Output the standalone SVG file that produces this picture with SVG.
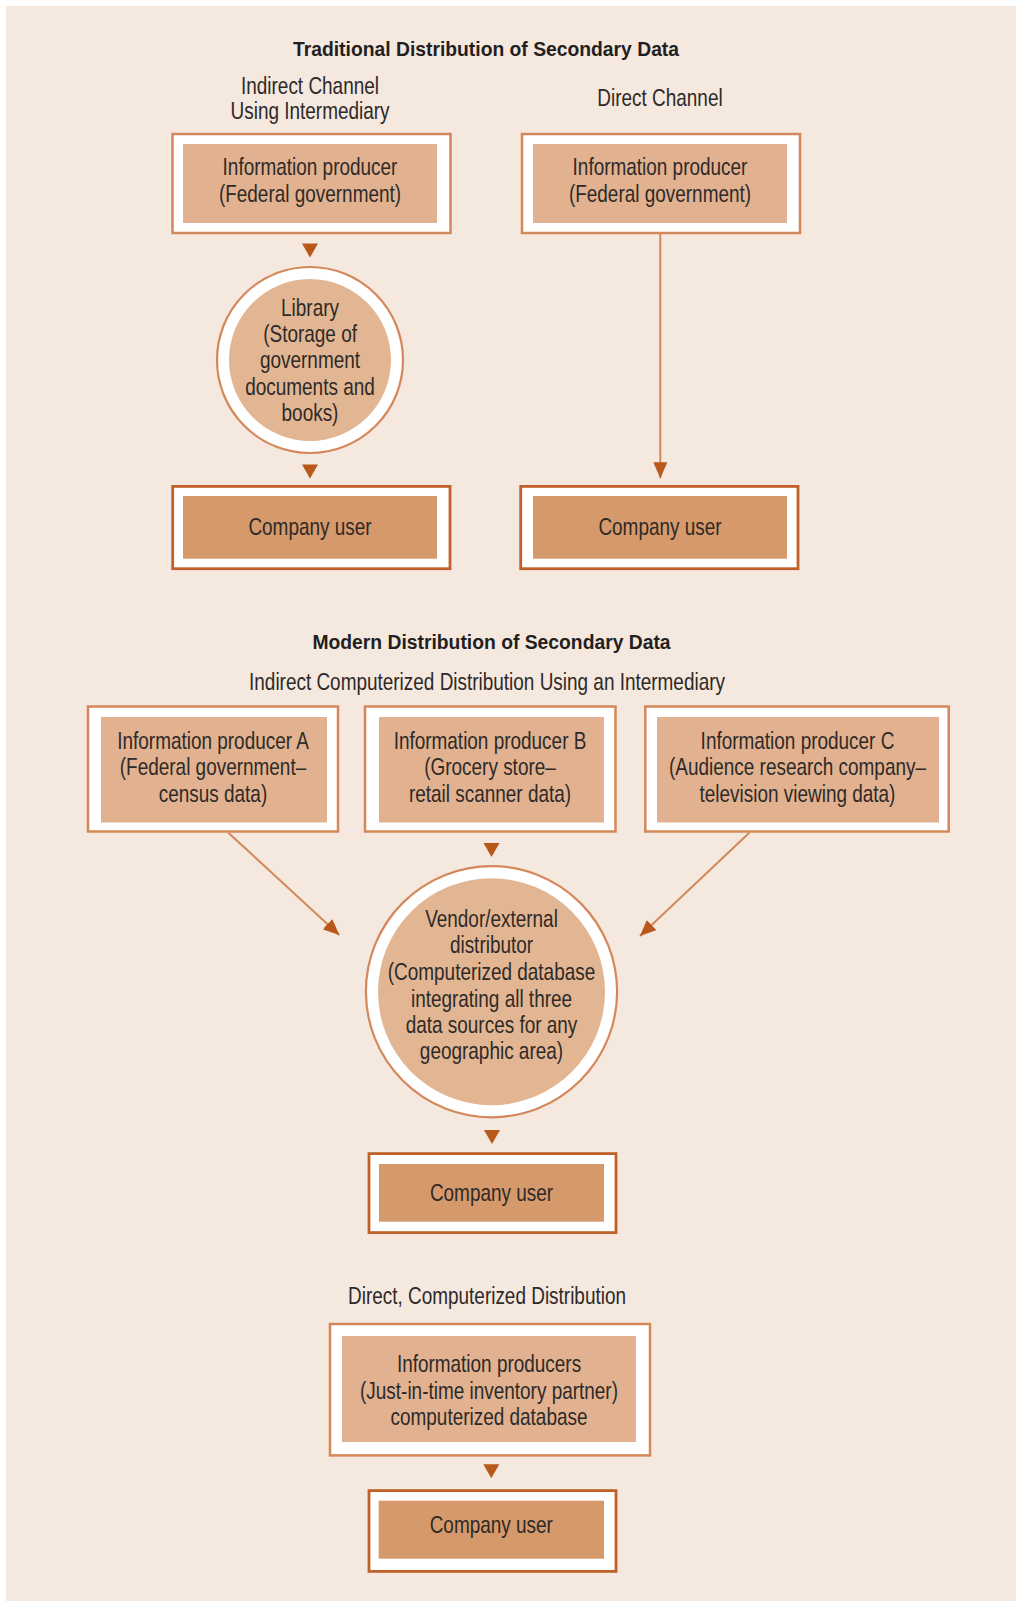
<svg xmlns="http://www.w3.org/2000/svg" width="1016" height="1601" viewBox="0 0 1016 1601">
  <style>
    text { font-family: "Liberation Sans", Arial, sans-serif; fill: #2e2a28; text-anchor: middle; transform-box: fill-box; transform-origin: center; }
    .t { font-size: 24px; transform: scaleX(0.79); }
    .h { font-size: 21px; font-weight: bold; fill: #231f20; transform: scaleX(0.92); }
    .frame { fill: #ffffff; stroke: #d4885a; stroke-width: 2.5; }
    .uframe { fill: #ffffff; stroke: #c0612a; stroke-width: 2.8; }
    .fill { fill: #e2b290; }
    .ufill { fill: #d6996b; }
    .cframe { fill: #ffffff; stroke: #d4885a; stroke-width: 2.2; }
    .cfill { fill: #e3b693; }
    .line { stroke: #d4885a; stroke-width: 2; fill: none; }
    .tri { fill: #b9581b; }
  </style>
  <defs>
    <marker id="arr" markerUnits="userSpaceOnUse" markerWidth="16" markerHeight="14" refX="16" refY="7" orient="auto" viewBox="0 0 16 14">
      <path d="M0,0 L16,7 L0,14 z" fill="#b9581b"/>
    </marker>
    <path id="down" d="M-8,0 L8,0 L0,14 z"/>
  </defs>

  <rect x="6" y="6" width="1010" height="1595" fill="#f5e8df"/>

  <!-- headings -->
  <g id="headings">
    <text class="h" x="486" y="56">Traditional Distribution of Secondary Data</text>
    <text class="t" x="310" y="94">Indirect Channel</text>
    <text class="t" x="310" y="119.5">Using Intermediary</text>
    <text class="t" x="660" y="106.5">Direct Channel</text>
    <text class="h" x="491.5" y="649">Modern Distribution of Secondary Data</text>
    <text class="t" x="487" y="690">Indirect Computerized Distribution Using an Intermediary</text>
    <text class="t" x="487" y="1304">Direct, Computerized Distribution</text>
  </g>

  <!-- connectors -->
  <g id="connectors">
    <use href="#down" class="tri" x="310" y="243.5"/>
    <use href="#down" class="tri" x="310" y="464.5"/>
    <line class="line" x1="660.3" y1="234" x2="660.3" y2="478.3" marker-end="url(#arr)"/>
    <line class="line" x1="228.3" y1="832.7" x2="339.3" y2="935" marker-end="url(#arr)"/>
    <line class="line" x1="749.3" y1="832.7" x2="640" y2="936" marker-end="url(#arr)"/>
    <use href="#down" class="tri" x="491.5" y="843"/>
    <use href="#down" class="tri" x="492" y="1130"/>
    <use href="#down" class="tri" x="491.3" y="1464.3"/>
  </g>

  <!-- traditional: indirect -->
  <g id="producer-indirect">
    <rect class="frame" x="172.5" y="134" width="278" height="99"/>
    <rect class="fill" x="183" y="144" width="254" height="79"/>
    <text class="t" x="310" y="175.3">Information producer</text>
    <text class="t" x="310" y="201.7">(Federal government)</text>
  </g>
  <g id="library">
    <circle class="cframe" cx="310" cy="360" r="93"/>
    <circle class="cfill" cx="310" cy="360" r="81"/>
    <text class="t" x="310" y="316">Library</text>
    <text class="t" x="310" y="342.5">(Storage of</text>
    <text class="t" x="310" y="368.5">government</text>
    <text class="t" x="310" y="395">documents and</text>
    <text class="t" x="310" y="421.5">books)</text>
  </g>
  <g id="user-indirect">
    <rect class="uframe" x="172.7" y="486.4" width="277.3" height="82.3"/>
    <rect class="ufill" x="183" y="496" width="254" height="62.7"/>
    <text class="t" x="310" y="535">Company user</text>
  </g>

  <!-- traditional: direct -->
  <g id="producer-direct">
    <rect class="frame" x="522" y="134" width="278" height="99"/>
    <rect class="fill" x="533" y="144" width="254" height="79"/>
    <text class="t" x="660" y="175.3">Information producer</text>
    <text class="t" x="660" y="201.7">(Federal government)</text>
  </g>
  <g id="user-direct">
    <rect class="uframe" x="520.7" y="486.4" width="277.3" height="82.3"/>
    <rect class="ufill" x="533" y="496" width="254" height="62.7"/>
    <text class="t" x="660" y="535">Company user</text>
  </g>

  <!-- modern: indirect -->
  <g id="producer-a">
    <rect class="frame" x="88" y="706.5" width="250" height="125"/>
    <rect class="fill" x="101" y="717" width="226" height="105.5"/>
    <text class="t" x="213" y="749.3">Information producer A</text>
    <text class="t" x="213" y="775">(Federal government–</text>
    <text class="t" x="213" y="801.7">census data)</text>
  </g>
  <g id="producer-b">
    <rect class="frame" x="365" y="706.5" width="250.5" height="125"/>
    <rect class="fill" x="379" y="717" width="225" height="105.5"/>
    <text class="t" x="490" y="749.3">Information producer B</text>
    <text class="t" x="490" y="775">(Grocery store–</text>
    <text class="t" x="490" y="801.7">retail scanner data)</text>
  </g>
  <g id="producer-c">
    <rect class="frame" x="645.3" y="706.5" width="303.4" height="125"/>
    <rect class="fill" x="657" y="717" width="282" height="105.5"/>
    <text class="t" x="797.5" y="749.3">Information producer C</text>
    <text class="t" x="797.5" y="775">(Audience research company–</text>
    <text class="t" x="797.5" y="801.7">television viewing data)</text>
  </g>
  <g id="vendor">
    <circle class="cframe" cx="491.5" cy="991.7" r="125.6"/>
    <circle class="cfill" cx="491.5" cy="991.7" r="113.5"/>
    <text class="t" x="491.5" y="926.7">Vendor/external</text>
    <text class="t" x="491.5" y="952.7">distributor</text>
    <text class="t" x="491.5" y="980">(Computerized database</text>
    <text class="t" x="491.5" y="1006.7">integrating all three</text>
    <text class="t" x="491.5" y="1032.7">data sources for any</text>
    <text class="t" x="491.5" y="1059.3">geographic area)</text>
  </g>
  <g id="user-modern-indirect">
    <rect class="uframe" x="369" y="1153.6" width="247" height="79"/>
    <rect class="ufill" x="379" y="1164" width="225" height="57.7"/>
    <text class="t" x="491.5" y="1200.7">Company user</text>
  </g>

  <!-- modern: direct -->
  <g id="producers-direct">
    <rect class="frame" x="330" y="1324" width="320" height="131.4"/>
    <rect class="fill" x="342" y="1336" width="294" height="106"/>
    <text class="t" x="489" y="1371.7">Information producers</text>
    <text class="t" x="489" y="1399">(Just-in-time inventory partner)</text>
    <text class="t" x="489" y="1425">computerized database</text>
  </g>
  <g id="user-modern-direct">
    <rect class="uframe" x="369" y="1490.6" width="247" height="80.8"/>
    <rect class="ufill" x="378.7" y="1500.7" width="225.3" height="58"/>
    <text class="t" x="491.3" y="1533.3">Company user</text>
  </g>
</svg>
